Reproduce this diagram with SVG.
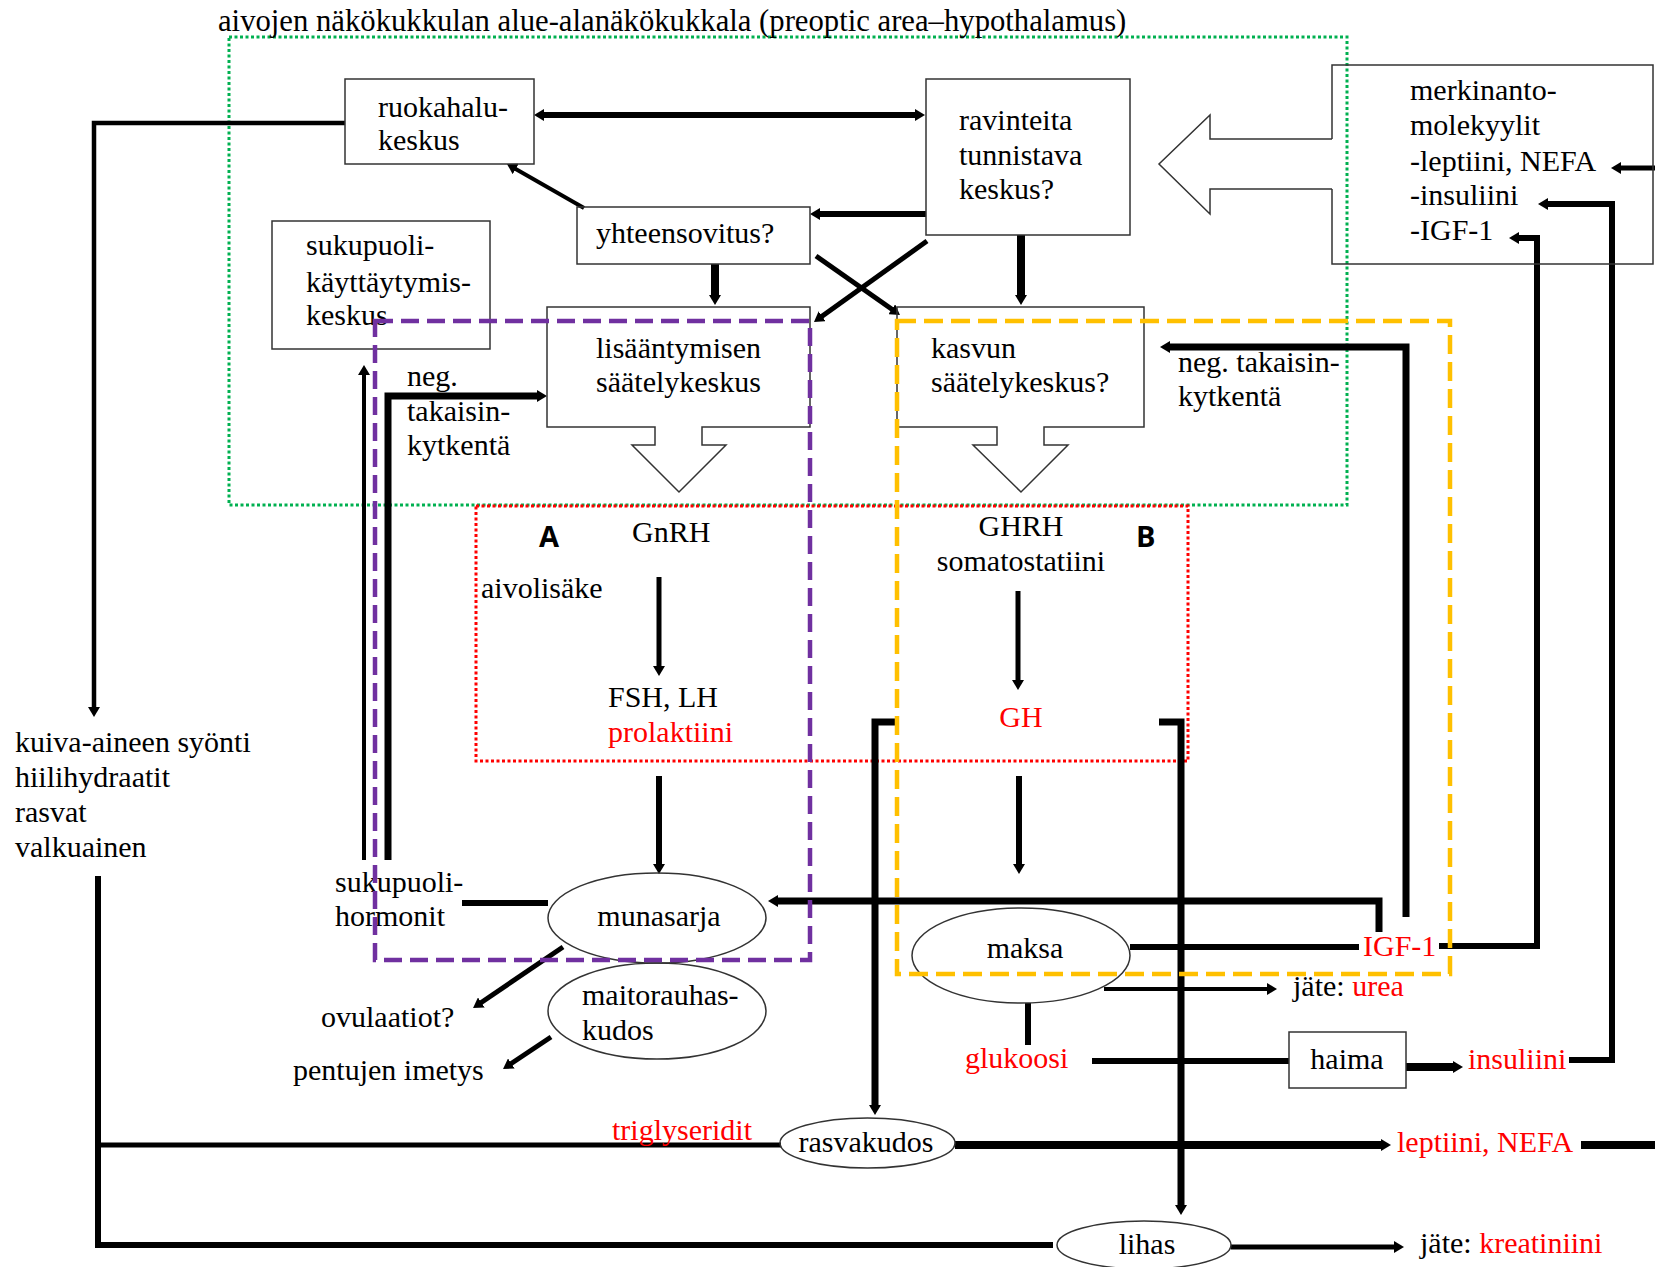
<svg xmlns="http://www.w3.org/2000/svg" width="1655" height="1267" viewBox="0 0 1655 1267">
<style>
text{font-family:"Liberation Serif","Times New Roman",serif;font-size:30px;fill:#000}
.r{fill:#ff0000}
.c{text-anchor:middle}
.ab{font-family:"Open Sans","Liberation Sans",sans-serif;font-weight:bold;font-size:29px}
.box{fill:none;stroke:#333;stroke-width:1.5}
.ln{fill:none;stroke:#000;stroke-linejoin:miter}
.arr{marker-end:url(#ah)}
</style>
<defs>
<marker id="ah" viewBox="0 0 10 12" refX="1" refY="6" markerWidth="10" markerHeight="12" orient="auto-start-reverse" markerUnits="userSpaceOnUse"><path d="M0,0 L10,6 L0,12 z" fill="#000"/></marker>
</defs>
<rect width="1655" height="1267" fill="#fff"/>

<g id="frames">
<rect x="229" y="37" width="1118" height="468" fill="none" stroke="#00b050" stroke-width="3" stroke-dasharray="3 2.5"/>
<rect x="476" y="506" width="712" height="255" fill="none" stroke="#ff0000" stroke-width="3" stroke-dasharray="3 2.5"/>
</g>

<text id="title" x="218" y="31" style="font-size:30.7px">aivojen näkökukkulan alue-alanäkökukkala (preoptic area–hypothalamus)</text>

<g id="connectors">
<path class="ln" d="M543,115 H916" stroke-width="6" marker-start="url(#ah)" marker-end="url(#ah)"/>
<path class="ln arr" d="M584,208 L514.8,168.5" stroke-width="4"/>
<path class="ln arr" d="M926,214 H819" stroke-width="6"/>
<path class="ln arr" d="M715,264 V296" stroke-width="8"/>
<path class="ln arr" d="M1021,235 V296" stroke-width="8"/>
<path class="ln arr" d="M927,241 L821.3,316.8" stroke-width="5"/>
<path class="ln arr" d="M816,256 L892.6,309.8" stroke-width="5"/>
<path class="ln arr" d="M345,123 H94 V708" stroke-width="4.5"/>
<path class="ln arr" d="M659,577 V667" stroke-width="5"/>
<path class="ln arr" d="M1018,591 V681" stroke-width="5"/>
<path class="ln arr" d="M659,776 V865" stroke-width="6"/>
<path class="ln arr" d="M1019,776 V865" stroke-width="6"/>
<path class="ln arr" d="M895,722 H875 V1106" stroke-width="7"/>
<path class="ln arr" d="M1159,722 H1181 V1206" stroke-width="7"/>
<path class="ln arr" d="M1406,917 V347 H1169" stroke-width="7"/>
<path class="ln arr" d="M1379,932 V901 H777" stroke-width="7"/>
<path class="ln arr" d="M1439,946 H1537 V238 H1518" stroke-width="6"/>
<path class="ln arr" d="M1569,1060 H1612 V204 H1547" stroke-width="6"/>
<path class="ln arr" d="M1655,168 H1620" stroke-width="5"/>
<path class="ln arr" d="M1104,989 H1268" stroke-width="4"/>
<path class="ln arr" d="M1406,1067 H1454" stroke-width="8"/>
<path class="ln arr" d="M955,1145 H1382" stroke-width="8"/>
<path class="ln arr" d="M1231,1247 H1395" stroke-width="5"/>
<path class="ln arr" d="M364,860 V374" stroke-width="4"/>
<path class="ln arr" d="M388,860 V396 H538" stroke-width="7"/>
<path class="ln arr" d="M563,947 L480.5,1003" stroke-width="5"/>
<path class="ln arr" d="M551,1037 L510.5,1064" stroke-width="5"/>
<path class="ln" d="M462,903 H548" stroke-width="6"/>
<path class="ln" d="M1130,947 H1359" stroke-width="6"/>
<path class="ln" d="M1028,1003 V1045" stroke-width="6"/>
<path class="ln" d="M1092,1061 H1289" stroke-width="6"/>
<path class="ln" d="M98,876 V1245 H1053" stroke-width="6"/>
<path class="ln" d="M98,1145 H781" stroke-width="5"/>
<path class="ln" d="M1581,1145 H1655" stroke-width="8"/>
</g>

<g id="ruokahalu">
<rect class="box" x="345" y="79" width="189" height="85"/>
<text x="378" y="117">ruokahalu-</text>
<text x="378" y="150">keskus</text>
</g>
<g id="ravinteita">
<rect class="box" x="926" y="79" width="204" height="156"/>
<text x="959" y="130">ravinteita</text>
<text x="959" y="165">tunnistava</text>
<text x="959" y="199">keskus?</text>
</g>
<g id="yhteensovitus">
<rect class="box" x="577" y="207" width="233" height="57"/>
<text x="596" y="243">yhteensovitus?</text>
</g>
<g id="sukupuolikayttaytymis">
<rect class="box" x="272" y="221" width="218" height="128"/>
<text x="306" y="255">sukupuoli-</text>
<text x="306" y="292">käyttäytymis-</text>
<text x="306" y="325">keskus</text>
</g>
<g id="lisaantymisen">
<path class="box" d="M547,307 H810 V427 H702 V445 H726 L679,492 L632,445 H655 V427 H547 Z"/>
<text x="596" y="358">lisääntymisen</text>
<text x="596" y="392">säätelykeskus</text>
</g>
<g id="kasvun">
<path class="box" d="M897,307 H1144 V427 H1044 V445 H1068 L1021,492 L973,445 H997 V427 H897 Z"/>
<text x="931" y="358">kasvun</text>
<text x="931" y="392">säätelykeskus?</text>
</g>
<g id="merkinanto">
<path class="box" d="M1332,139 V65 H1653 V264 H1332 V189"/>
<path d="M1332,139 H1210 V115 L1159,164 L1210,214 V189 H1332" fill="#fff" stroke="#333" stroke-width="1.5"/>
<text x="1410" y="100">merkinanto-</text>
<text x="1410" y="135">molekyylit</text>
<text x="1410" y="171">-leptiini, NEFA</text>
<text x="1410" y="205">-insuliini</text>
<text x="1410" y="240">-IGF-1</text>
</g>
<g id="labels">
<text x="407" y="386">neg.</text>
<text x="407" y="421">takaisin-</text>
<text x="407" y="455">kytkentä</text>
<text x="1178" y="372">neg. takaisin-</text>
<text x="1178" y="406">kytkentä</text>
<text class="ab" x="539" y="547">A</text>
<text class="ab" x="1136" y="547">B</text>
<text x="632" y="542">GnRH</text>
<text x="481" y="598">aivolisäke</text>
<text x="608" y="707">FSH, LH</text>
<text class="r" x="608" y="742">prolaktiini</text>
<text class="c" x="1021" y="536">GHRH</text>
<text class="c" x="1021" y="571">somatostatiini</text>
<text class="r c" x="1021" y="727">GH</text>
<text x="15" y="752">kuiva-aineen syönti</text>
<text x="15" y="787">hiilihydraatit</text>
<text x="15" y="822">rasvat</text>
<text x="15" y="857">valkuainen</text>
<text x="335" y="892">sukupuoli-</text>
<text x="335" y="926">hormonit</text>
<text x="321" y="1027">ovulaatiot?</text>
<text x="293" y="1080">pentujen imetys</text>
<text class="r" x="1363" y="956">IGF-1</text>
<text x="1293" y="996">jäte: <tspan class="r">urea</tspan></text>
<text class="r" x="965" y="1068">glukoosi</text>
<text class="r" x="1468" y="1069">insuliini</text>
<text class="r" x="612" y="1140">triglyseridit</text>
<text class="r" x="1397" y="1152">leptiini, NEFA</text>
<text x="1420" y="1253">jäte: <tspan class="r">kreatiniini</tspan></text>
</g>
<g id="munasarja">
<ellipse class="box" cx="657" cy="918" rx="109" ry="45"/>
<text class="c" x="659" y="926">munasarja</text>
</g>
<g id="maitorauhaskudos">
<ellipse class="box" cx="657" cy="1011" rx="109" ry="48"/>
<text x="582" y="1005">maitorauhas-</text>
<text x="582" y="1040">kudos</text>
</g>
<g id="maksa">
<ellipse class="box" cx="1021" cy="955.5" rx="109" ry="47.5"/>
<text class="c" x="1025" y="958">maksa</text>
</g>
<g id="haima">
<rect class="box" x="1289" y="1032" width="117" height="56"/>
<text class="c" x="1347" y="1069">haima</text>
</g>
<g id="rasvakudos">
<ellipse class="box" cx="867.5" cy="1143" rx="87.5" ry="25"/>
<text class="c" x="866" y="1152">rasvakudos</text>
</g>
<g id="lihas">
<ellipse class="box" cx="1144" cy="1245" rx="87" ry="24"/>
<text class="c" x="1147" y="1254">lihas</text>
</g>
<g id="dashframes">
<rect x="375" y="321" width="435" height="639" fill="none" stroke="#7030a0" stroke-width="4.5" stroke-dasharray="18 8"/>
<rect x="897" y="321" width="553" height="653" fill="none" stroke="#ffc000" stroke-width="4.5" stroke-dasharray="19 8"/>
</g>
</svg>
